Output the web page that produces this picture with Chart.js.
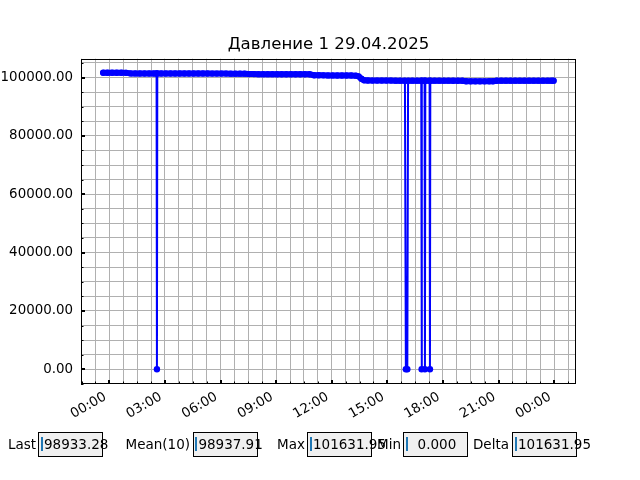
<!DOCTYPE html>
<html>
<head>
<meta charset="utf-8">
<script src="https://cdn.jsdelivr.net/npm/chart.js@4"></script>
<style>
  body { margin:0; width:640px; height:480px; position:relative; background:#fff; font-family:'DejaVu Sans'; overflow:hidden; }
  #c { position:absolute; left:0; top:0; }
  .lbl { position:absolute; top:436px; font-size:13.5px; line-height:16px; color:#000; white-space:pre; }
  .box { position:absolute; top:432px; width:65px; height:25px; box-sizing:border-box; border:1px solid #000; background:#f0f0f0; }
  .cur { position:absolute; left:1.5px; top:3.7px; width:2px; height:14px; background:#1f77b4; }
  .val { position:absolute; left:4.7px; top:3px; font-size:13.5px; line-height:16px; white-space:pre; color:#000; }
</style>
</head>
<body>
<canvas id="c" width="640" height="480"></canvas>
<div id="stats"></div>
<script>
// pressure samples, x in hours of 29.04.2025
const hours = [
  -0.33, -0.1, 0.15, 0.4, 0.65, 0.9,
  1.15, 1.4, 1.65, 1.9, 2.15, 2.4, 2.55, 2.57, 2.59, 2.8, 3.05, 3.3, 3.55, 3.8,
  4.05, 4.3, 4.55, 4.8, 5.05, 5.3, 5.55, 5.8, 6.05, 6.3, 6.55, 6.8, 7.05, 7.3,
  7.55, 7.8, 8.05, 8.3, 8.55, 8.8, 9.05, 9.3, 9.55, 9.8, 10.05, 10.3, 10.55, 10.8,
  11.05, 11.3, 11.55, 11.8, 12.05, 12.3, 12.55, 12.8, 13.05, 13.3, 13.45, 13.6, 13.75,
  13.95, 14.2, 14.45, 14.7, 14.95, 15.2, 15.45, 15.7, 15.95, 16.0, 16.08, 16.12,
  16.35, 16.6, 16.83, 16.85, 16.87, 17.01, 17.03, 17.05, 17.28, 17.3, 17.32,
  17.55, 17.8, 18.05, 18.3, 18.55, 18.8, 19.05,
  19.25, 19.5, 19.75, 20.0, 20.25, 20.5, 20.7,
  20.9, 21.15, 21.4, 21.65, 21.9, 22.15, 22.4, 22.65, 22.9, 23.15, 23.4, 23.65, 23.85, 23.97
];
const pressure = [
  101632, 101631, 101630, 101628, 101625, 101610,
  101420, 101410, 101405, 101400, 101400, 101395, 101395, 0, 101390, 101390, 101385, 101385, 101380, 101380,
  101375, 101370, 101370, 101365, 101360, 101360, 101355, 101350, 101350, 101345, 101340, 101340, 101335, 101330,
  101180, 101170, 101165, 101160, 101160, 101155, 101150, 101150, 101145, 101140, 101140, 101135, 101130, 101120,
  100780, 100760, 100750, 100740, 100730, 100720, 100710, 100700, 100690, 100650, 100400, 99600, 99050,
  98960, 98955, 98950, 98950, 98945, 98945, 98940, 98940, 98940, 0, 0, 98935,
  98935, 98935, 98930, 0, 98930, 98930, 0, 98930, 98930, 0, 98930,
  98930, 98925, 98925, 98925, 98920, 98920, 98900,
  98720, 98700, 98690, 98690, 98700, 98710, 98750,
  98920, 98925, 98930, 98930, 98935, 98935, 98935, 98940, 98940, 98938, 98937, 98935, 98934, 98933.28
];
const majorHours = [0, 3, 6, 9, 12, 15, 18, 21, 24];
const timeLabels = ['00:00', '03:00', '06:00', '09:00', '12:00', '15:00', '18:00', '21:00', '00:00'];
const yMajor = [0, 20000, 40000, 60000, 80000, 100000];
const yLabels = ['0.00', '20000.00', '40000.00', '60000.00', '80000.00', '100000.00'];
const yGrid = [-5000, 0, 5000, 10000, 15000, 20000, 25000, 30000, 35000, 40000, 45000, 50000,
  55000, 60000, 65000, 70000, 75000, 80000, 85000, 90000, 95000, 100000, 105000];
const statNames = ['Last', 'Mean(10)', 'Max', 'Min', 'Delta'];
const statValues = ['98933.28', '98937.91', '101631.95', '  0.000', '101631.95'];

// widget layout (label right edge, box left)
const statLabelRight = [36, 190, 305, 401, 509];
const statBoxLeft = [38.3, 192.7, 307.3, 403.3, 512.3];

const stats = document.getElementById('stats');
statNames.forEach((name, i) => {
  const l = document.createElement('div');
  l.className = 'lbl';
  l.style.right = (640 - statLabelRight[i]) + 'px';
  l.textContent = name;
  stats.appendChild(l);
  const b = document.createElement('div');
  b.className = 'box';
  b.style.left = statBoxLeft[i] + 'px';
  b.innerHTML = '<div class="cur"></div>';
  const v = document.createElement('div');
  v.className = 'val';
  v.textContent = statValues[i];
  b.appendChild(v);
  stats.appendChild(b);
});

const findIdx = (arr, v) => arr.findIndex(a => Math.abs(a - v) < 1e-6);

// frame + inward tick marks like the original plot
const frameAndTicks = {
  id: 'frameAndTicks',
  afterDraw(chart) {
    const {ctx, chartArea: a, scales: {x, y}} = chart;
    ctx.save();
    ctx.strokeStyle = '#000';
    x.ticks.forEach(t => {
      const major = findIdx(majorHours, t.value) >= 0;
      const px = Math.round(x.getPixelForValue(t.value)) + (major ? 0 : 0.5);
      ctx.lineWidth = major ? 2 : 1;
      ctx.beginPath();
      ctx.moveTo(px, a.bottom);
      ctx.lineTo(px, a.bottom - (major ? 4 : 2.5));
      ctx.stroke();
    });
    y.ticks.forEach(t => {
      const major = findIdx(yMajor, t.value) >= 0;
      const py = Math.round(y.getPixelForValue(t.value)) + (major ? 0 : 0.5);
      ctx.lineWidth = major ? 2 : 1;
      ctx.beginPath();
      ctx.moveTo(a.left, py);
      ctx.lineTo(a.left + (major ? 4 : 2.5), py);
      ctx.stroke();
    });
    ctx.lineWidth = 1;
    ctx.strokeRect(Math.round(a.left) + 0.5, Math.round(a.top) + 0.5,
      Math.round(a.right - a.left) - 1, Math.round(a.bottom - a.top) - 1);
    ctx.restore();
  }
};

const tickFont = {family: 'DejaVu Sans', size: 13.4};

new Chart(document.getElementById('c'), {
  type: 'line',
  data: {
    datasets: [{
      data: hours.map((h, i) => ({x: h, y: pressure[i]})),
      borderColor: '#0000ff',
      backgroundColor: '#0000ff',
      borderWidth: 2,
      borderCapStyle: 'round',
      borderJoinStyle: 'round',
      segment: {
        borderWidth: c => (c.p0.parsed.y < 1 || c.p1.parsed.y < 1) ? 2 : 6
      },
      pointRadius: 3.2,
      pointBorderWidth: 0,
      pointBackgroundColor: '#0000ff',
      tension: 0,
      fill: false
    }]
  },
  options: {
    responsive: false,
    animation: false,
    devicePixelRatio: 1,
    layout: {padding: {left: 0, right: 64, top: 0, bottom: 0}},
    plugins: {
      legend: {display: false},
      tooltip: {enabled: false},
      title: {
        display: true,
        fullSize: false,
        text: 'Давление 1 29.04.2025',
        color: '#000',
        font: {family: 'DejaVu Sans', size: 16.6, weight: 'normal'},
        padding: {top: 35, bottom: 3.8}
      }
    },
    scales: {
      x: {
        type: 'linear',
        min: -1.527,
        max: 25.18,
        afterFit: s => { s.height = 96; },
        border: {display: false},
        grid: {color: '#b0b0b0', lineWidth: 1, drawTicks: false},
        ticks: {
          stepSize: 0.75,
          includeBounds: false,
          autoSkip: false,
          maxTicksLimit: 1000,
          minRotation: 30,
          maxRotation: 30,
          padding: 5,
          labelOffset: -4,
          color: '#000',
          font: tickFont,
          callback: v => {
            const i = findIdx(majorHours, v);
            return i >= 0 ? timeLabels[i] : '';
          }
        }
      },
      y: {
        type: 'linear',
        min: -5050,
        max: 106450,
        afterBuildTicks: s => { s.ticks = yGrid.map(v => ({value: v})); },
        afterFit: s => { s.width = 81; },
        border: {display: false},
        grid: {color: '#b0b0b0', lineWidth: 1, drawTicks: false},
        ticks: {
          autoSkip: false,
          padding: 8,
          color: '#000',
          font: tickFont,
          callback: v => {
            const i = findIdx(yMajor, v);
            return i >= 0 ? yLabels[i] : '';
          }
        }
      }
    }
  },
  plugins: [frameAndTicks]
});
</script>
</body>
</html>
